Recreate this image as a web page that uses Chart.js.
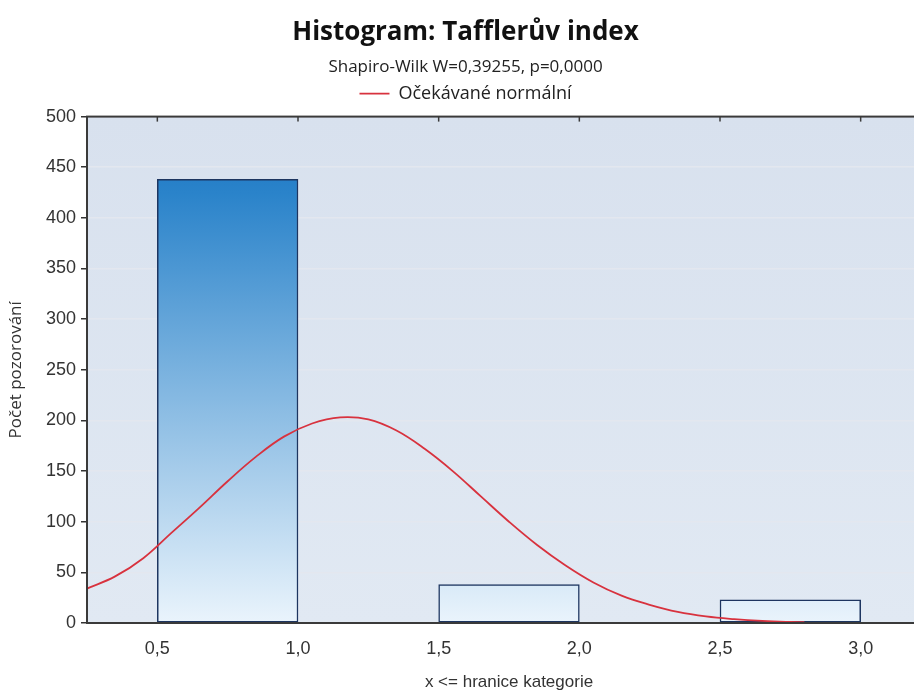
<!DOCTYPE html>
<html>
<head>
<meta charset="utf-8">
<script src="https://cdn.jsdelivr.net/npm/chart.js@4/dist/chart.umd.min.js"></script>
<style>
    html, body { margin: 0; padding: 0; background: #fff; overflow: hidden; }
    #wrap { width: 940px; height: 691px; }
</style>
</head>
<body>
<div id="wrap"><canvas id="histChart"></canvas></div>
<script>
// --- Data ---
const binStarts = [0.5, 1.0, 1.5, 2.0, 2.5];
const binCounts = [438, 0, 38, 0, 23];
const binWidth = 0.5;

// expected normal curve, read point by point
const curveX = [0.25, 0.35, 0.45, 0.55, 0.65, 0.75, 0.85, 0.95, 1.05, 1.15, 1.25, 1.35, 1.45, 1.55,
                1.65, 1.75, 1.85, 1.95, 2.05, 2.15, 2.25, 2.35, 2.45, 2.55, 2.65, 2.75, 2.8];
const curveY = [34, 46, 64, 89, 114, 140, 164, 184, 197, 203, 201, 190, 172, 150,
                125, 100, 77, 57, 40, 27, 18, 11, 6.5, 3.8, 2, 1, 0.8];

const xTicks = [0.5, 1.0, 1.5, 2.0, 2.5, 3.0];

const fmt = v => v.toFixed(1).replace('.', ',');

// --- Plugins ---
const plotBackground = {
    id: 'plotBackground',
    afterInit(chart) {
        // a bit more room between the legend and the plot
        const fit = chart.legend.fit;
        chart.legend.fit = function () {
            fit.call(this);
            this.height += 4;
        };
    },
    beforeDraw(chart) {
        const { ctx, chartArea: a } = chart;
        const g = ctx.createLinearGradient(0, a.top, 0, a.bottom);
        g.addColorStop(0, '#d8e1ee');
        g.addColorStop(1, '#e1e9f3');
        ctx.save();
        ctx.fillStyle = g;
        ctx.fillRect(a.left, a.top, a.right - a.left, a.bottom - a.top);
        ctx.restore();
    },
    afterDatasetsDraw(chart) {
        const { ctx, chartArea: a, scales } = chart;
        ctx.save();
        ctx.strokeStyle = '#3a3a3a';
        ctx.lineWidth = 2;
        ctx.strokeRect(a.left, a.top, a.right - a.left, a.bottom - a.top);
        // small ticks under the top border
        ctx.lineWidth = 1.5;
        xTicks.forEach(v => {
            const px = scales.x.getPixelForValue(v);
            ctx.beginPath();
            ctx.moveTo(px, a.top);
            ctx.lineTo(px, a.top + 5);
            ctx.stroke();
        });
        ctx.restore();
    }
};

function barFill(context) {
    const a = context.chart.chartArea;
    if (!a) return '#9cc6ea';
    const g = context.chart.ctx.createLinearGradient(0, a.top, 0, a.bottom);
    g.addColorStop(0, '#1570c0');
    g.addColorStop(0.15, '#2a83ca');
    g.addColorStop(1, '#eaf4fc');
    return g;
}

// --- Chart ---
const ctx = document.getElementById('histChart').getContext('2d');
new Chart(ctx, {
    data: {
        datasets: [
            {
                type: 'line',
                label: 'Očekávané normální',
                data: curveX.map((x, i) => ({ x, y: curveY[i] })),
                borderColor: '#d8323e',
                backgroundColor: '#d8323e',
                borderWidth: 1.8,
                pointRadius: 0,
                tension: 0.4,
                order: 0
            },
            {
                type: 'bar',
                label: 'Histogram',
                data: binStarts.map((s, i) => ({ x: s + binWidth / 2, y: binCounts[i] || null })),
                backgroundColor: barFill,
                borderColor: '#1d3560',
                borderWidth: 1.5,
                borderSkipped: false,
                categoryPercentage: 1,
                barPercentage: 1,
                order: 1
            }
        ]
    },
    options: {
        responsive: true,
        maintainAspectRatio: false,
        animation: false,
        layout: { padding: { left: 0, right: 9, top: 0, bottom: 0 } },
        scales: {
            x: {
                type: 'linear',
                offset: false,
                min: 0.25,
                max: 3.25,
                afterBuildTicks: s => { s.ticks = xTicks.map(v => ({ value: v })); },
                afterFit: s => { s.height = 68; },
                grid: { display: false, drawTicks: false, offset: false },
                border: { display: false },
                ticks: {
                    padding: 15,
                    color: '#333',
                    font: { family: 'Liberation Sans', size: 18 },
                    callback: v => fmt(v)
                },
                title: {
                    display: true,
                    text: 'x <= hranice kategorie',
                    color: '#333',
                    font: { family: 'Liberation Sans', size: 17 },
                    padding: { top: 4, bottom: -2 }
                }
            },
            y: {
                min: 0,
                max: 500,
                afterFit: s => { s.width = 87; },
                ticks: {
                    stepSize: 50,
                    padding: 5,
                    color: '#333',
                    font: { family: 'Liberation Sans', size: 18 }
                },
                grid: {
                    color: '#e3e7ef',
                    lineWidth: 1.5,
                    tickColor: '#333',
                    tickLength: 6
                },
                border: { display: false },
                title: {
                    display: true,
                    text: 'Počet pozorování',
                    color: '#333',
                    font: { family: 'Open Sans', size: 17 },
                    padding: { top: 6, bottom: 0 }
                }
            }
        },
        plugins: {
            title: {
                display: true,
                text: 'Histogram: Tafflerův index',
                color: '#111',
                font: { family: 'Open Sans', size: 26, weight: 'bold' },
                padding: { top: 17, bottom: 9 }
            },
            subtitle: {
                display: true,
                text: 'Shapiro-Wilk W=0,39255, p=0,0000',
                color: '#222',
                font: { family: 'Open Sans', size: 17 },
                padding: { top: 0, bottom: -12 }
            },
            legend: {
                display: true,
                labels: {
                    filter: item => item.text !== 'Histogram',
                    usePointStyle: true,
                    pointStyle: 'line',
                    pointStyleWidth: 30,
                    padding: 19,
                    color: '#222',
                    font: { family: 'Open Sans', size: 18 }
                }
            },
            tooltip: { enabled: false }
        }
    },
    plugins: [plotBackground]
});
</script>
</body>
</html>
